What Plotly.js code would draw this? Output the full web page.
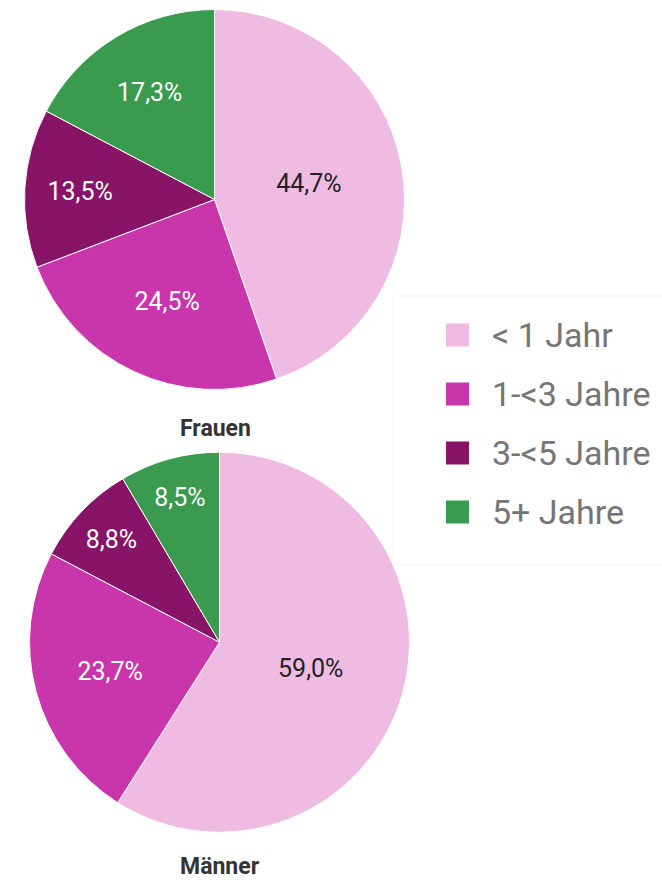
<!DOCTYPE html>
<html>
<head>
<meta charset="utf-8">
<script src="https://cdn.plot.ly/plotly-3.0.1.min.js"></script>
<style>html,body{margin:0;padding:0;background:#fff;}#chart{width:662px;height:882px;}</style>
</head>
<body>
<div id="chart"></div>
<script>
// Data
const categories = ["< 1 Jahr", "1-<3 Jahre", "3-<5 Jahre", "5+ Jahre"];
const frauenValues = [44.7, 24.5, 13.5, 17.3];
const maennerValues = [59.0, 23.7, 8.8, 8.5];
const groupNames = ["Frauen", "Männer"];
const colors = ["#F0BBE3", "#C935AA", "#881467", "#3A9A4E"];
const textColors = ["#222222", "#ffffff", "#ffffff", "#ffffff"];

const W = 662, H = 882;
function fmt(v){ return v.toFixed(1).replace(".", ",") + "%"; }

function pieTrace(values, domain, name){
  return {
    type: "pie",
    name: name,
    labels: categories,
    values: values,
    text: values.map(fmt),
    textinfo: "text",
    texttemplate: "%{text}",
    textposition: "inside",
    insidetextorientation: "horizontal",
    sort: false,
    direction: "clockwise",
    rotation: 0,
    marker: {colors: colors, line: {color: "#ffffff", width: 1}},
    insidetextfont: {family: "Roboto, sans-serif", size: 25, color: textColors},
    domain: domain,
    showlegend: false,
    hoverinfo: "label+percent"
  };
}

const data = [
  pieTrace(frauenValues, {x: [24.5/W, 404.5/W], y: [1-390/H, 1-9/H]}, groupNames[0]),
  pieTrace(maennerValues, {x: [29.5/W, 409.5/W], y: [1-832.5/H, 1-452/H]}, groupNames[1])
];

const shapes = [{
  type: "rect", xref: "paper", yref: "paper",
  x0: 393/W, x1: 1.01, y0: 1-565/H, y1: 1-296/H,
  line: {color: "#f3f3f3", width: 1}, fillcolor: "rgba(0,0,0,0)"
}];
const annotations = [
  {text: "<b>" + groupNames[0] + "</b>", x: 215/W, y: 1-428/H},
  {text: "<b>" + groupNames[1] + "</b>", x: 220/W, y: 1-866/H}
].map(a => Object.assign(a, {xref: "paper", yref: "paper", showarrow: false,
  xanchor: "center", yanchor: "middle", borderpad: 0,
  font: {family: "Roboto, sans-serif", size: 23, color: "#333333"}}));

const legendTop = 335, legendStep = 59;
categories.forEach((c, i) => {
  const yc = legendTop + i * legendStep;
  shapes.push({type: "rect", xref: "paper", yref: "paper",
    x0: 446/W, x1: 469/W, y0: 1-(yc+11.5)/H, y1: 1-(yc-11.5)/H,
    fillcolor: colors[i], line: {width: 0}});
  annotations.push({text: c, xref: "paper", yref: "paper", x: 490/W, y: 1-yc/H,
    xanchor: "left", yanchor: "middle", showarrow: false,
    font: {family: "Roboto, sans-serif", size: 34, color: "#757575"}});
});

const layout = {
  width: W, height: H,
  margin: {l: 0, r: 0, t: 0, b: 0},
  paper_bgcolor: "#ffffff",
  showlegend: false,
  shapes: shapes,
  annotations: annotations,
  font: {family: "Roboto, sans-serif"}
};

Plotly.newPlot("chart", data, layout, {displayModeBar: false, staticPlot: true});
</script>
</body>
</html>
